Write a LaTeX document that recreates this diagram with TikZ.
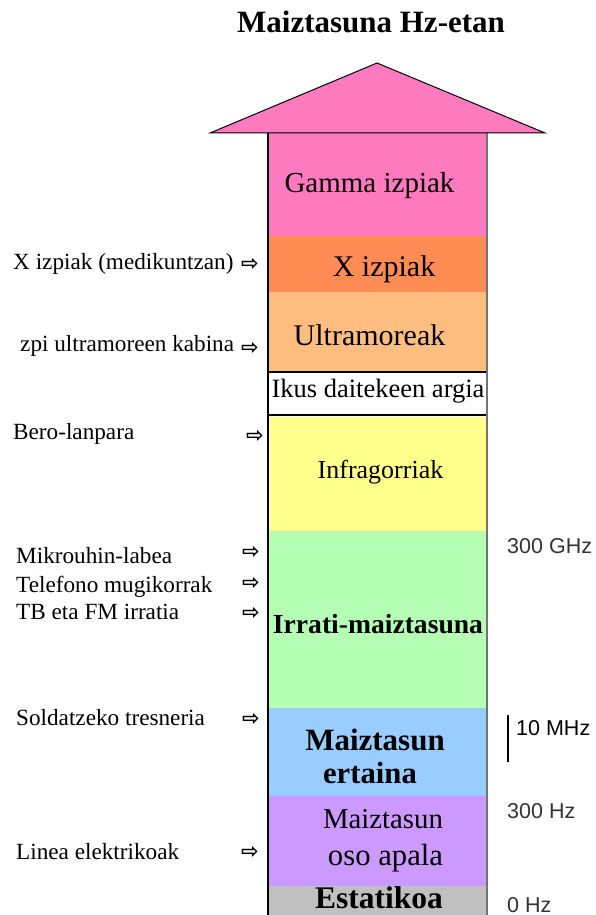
\documentclass[tikz,border=0pt]{standalone}
\usepackage{fontspec}
\setmainfont{Liberation Serif}
\newfontfamily\hzfont{Liberation Sans}
\newfontfamily\symfont{DejaVu Sans}
\usepackage{tikz}
\usetikzlibrary{positioning}

\definecolor{gammapink}{RGB}{255,122,190}
\definecolor{xorange}{RGB}{255,140,85}
\definecolor{uvorange}{RGB}{255,190,128}
\definecolor{iryellow}{RGB}{255,255,140}
\definecolor{radiogreen}{RGB}{180,255,180}
\definecolor{midblue}{RGB}{153,204,255}
\definecolor{lowpurple}{RGB}{204,153,255}
\definecolor{staticgray}{RGB}{192,192,192}

\begin{document}
\begin{tikzpicture}[x=1pt, y=-1pt,
                          sidelabel/.style={anchor=base west, inner sep=0pt, font=\fontsize{23.2}{27}\selectfont},
                          pointer/.style={inner sep=0pt, font=\symfont\bfseries\fontsize{21}{24}\selectfont},
                          bandtext/.style={anchor=base, inner sep=0pt, font=\fontsize{#1}{#1}\selectfont},
                          bandbold/.style={anchor=base, inner sep=0pt, font=\bfseries\fontsize{#1}{#1}\selectfont},
                          hzlabel/.style={anchor=base west, inner sep=0pt, text=black!80, font=\hzfont\fontsize{21.5}{25}\selectfont},
                      ]
                      \useasboundingbox (0,0) rectangle (595,915);

                      % Bands
                      \fill[gammapink]  (268,133) rectangle (487,236);
                      \fill[xorange]    (268,236) rectangle (487,292);
                      \fill[uvorange]   (268,292) rectangle (487,372);
                      \fill[iryellow]   (268,417) rectangle (487,531);
                      \fill[radiogreen] (268,531) rectangle (487,708);
                      \fill[midblue]    (268,708) rectangle (487,796);
                      \fill[lowpurple]  (268,796) rectangle (487,886);
                      \fill[staticgray] (268,886) rectangle (487,915);
                      \draw[black, line width=1.3pt, fill=white] (268,372) rectangle (487,415);
                      \draw[black, line width=2.2pt] (268,133) -- (268,915);
                      \draw[black!55, line width=1.8pt] (487,133) -- (487,915);
                      \draw[black, line width=1pt, fill=gammapink] (210,133) -- (377,63) -- (545,133) -- cycle;

                      % Nodes
                      \node[anchor=base, inner sep=0pt, font=\bfseries\fontsize{31}{36}\selectfont] (title) at (371,33) {Maiztasuna Hz-etan};

                      \node[bandtext=29]   (gamma)    at (369.5,192) {Gamma izpiak};
                      \node[bandtext=30]   (xray)     at (384,276)   {X izpiak};
                      \node[bandtext=30]   (uv)       at (369.5,345) {Ultramoreak};
                      \node[bandtext=26.5] (visible)  at (378,397)   {Ikus daitekeen argia};
                      \node[bandtext=26]   (ir)       at (380.5,478) {Infragorriak};
                      \node[bandbold=27.6] (radio)    at (378,633)   {Irrati-maiztasuna};
                      \node[bandbold=31]   (mid_1)    at (375,750)   {Maiztasun};
                      \node[bandbold=30.7] (mid_2)    at (370,783)   {ertaina};
                      \node[bandtext=28.8] (low_1)    at (383,828)   {Maiztasun};
                      \node[bandtext=30.7] (low_2)    at (385.5,865) {oso apala};
                      \node[bandbold=31.5] (static)   at (379,908)   {Estatikoa};

                      \node[sidelabel] (medical)   at (13,269) {X izpiak (medikuntzan)};
                      \node[sidelabel] (tanning)   at (20,351) {zpi ultramoreen kabina};
                      \node[sidelabel] (heatlamp)  at (13,439) {Bero-lanpara};
                      \node[sidelabel] (microwave) at (16,563) {Mikrouhin-labea};
                      \node[sidelabel] (mobile)    at (16,592) {Telefono mugikorrak};
                      \node[sidelabel] (tvfm)      at (16,619) {TB eta FM irratia};
                      \node[sidelabel] (welding)   at (16,725) {Soldatzeko tresneria};
                      \node[sidelabel] (powerline) at (16,859) {Linea elektrikoak};

                      \node[pointer] (p_medical)   at (250,264) {⇨};
                      \node[pointer] (p_tanning)   at (250,348) {⇨};
                      \node[pointer] (p_heatlamp)  at (255,436) {⇨};
                      \node[pointer] (p_microwave) at (251,552) {⇨};
                      \node[pointer] (p_mobile)    at (251,583) {⇨};
                      \node[pointer] (p_tvfm)      at (251,613) {⇨};
                      \node[pointer] (p_welding)   at (251,719) {⇨};
                      \node[pointer] (p_powerline) at (250,852) {⇨};

                      \node[hzlabel] (hz_ghz)  at (507,553) {300 GHz};
                      \node[hzlabel, text=black] (hz_mhz) at (516,735) {10 MHz};
                      \node[hzlabel] (hz_low)  at (507,818) {300 Hz};
                      \node[hzlabel] (hz_zero) at (507,912) {0 Hz};

                      %Lines
                      \coordinate (tick_top) at (508,715);
                      \coordinate (tick_bot) at (508,762);
                      \draw[line width=1.5pt] (tick_top) -- (tick_bot);
                  \end{tikzpicture}
\end{document}
